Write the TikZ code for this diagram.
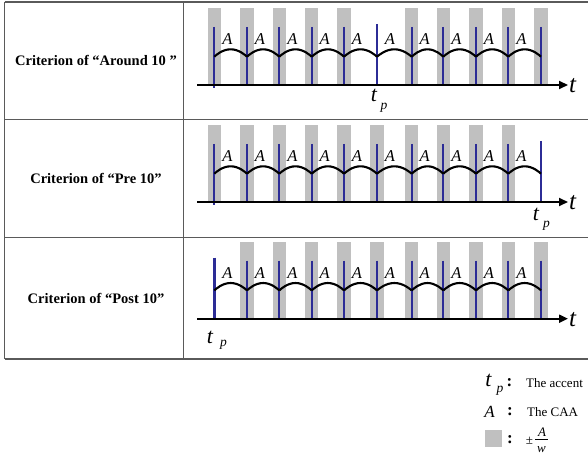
\documentclass[tikz,border=0pt]{standalone}
\usepackage{fontspec}
\setmainfont{Liberation Serif}
\usetikzlibrary{arrows.meta}
\definecolor{barblue}{RGB}{44,44,150}
\definecolor{bargray}{RGB}{192,192,192}
\definecolor{rulegray}{RGB}{90,90,90}
\newcommand\sz[1]{\fontsize{#1}{#1}\selectfont}
\tikzset{
  rule/.style={draw=rulegray,line width=1.2pt},
  blueline/.style={draw=barblue,line width=1.7pt},
  tpline/.style={draw=barblue,line width=2.7pt},
  wave/.style={draw=black,line width=2.1pt,line join=round},
  axisline/.style={draw=black,line width=2pt,-{Triangle[length=9pt,width=8pt]}},
  alabel/.style={inner sep=0pt,anchor=base,font=\sz{16.5}\itshape},
  tlabel/.style={inner sep=0pt,font=\sz{25}\itshape},
  tplabel/.style={inner sep=0pt,anchor=base,font=\sz{22}\itshape},
  plabel/.style={inner sep=0pt,anchor=base,font=\sz{13.5}\itshape},
  crit/.style={inner sep=0pt,font=\sz{14.5}\bfseries},
  legtext/.style={inner sep=0pt,anchor=base west,font=\sz{13}},
  legcolon/.style={inner sep=0pt,anchor=base,font=\sz{17}\bfseries},
}
\newcommand\critrow[3]{%
  \foreach \x [count=\i] in {214.3,247,279.3,311.7,344,377,411.7,443.3,476,508.3,541}{%
    \ifnum\i=#3\relax\else
      \fill[bargray] ({\x-6.7},{#2-77}) rectangle ({\x+6.7},#2);
    \fi
  }
  \foreach \x [count=\i] in {214.3,247,279.3,311.7,344,377,411.7,443.3,476,508.3,541}{%
    \ifnum\i=#3\relax
      \coordinate (r#1top\i) at (\x,{#2-61});
      \coordinate (r#1bot\i) at (\x,#2);
      \draw[tpline] (r#1top\i) -- (r#1bot\i);
    \else
      \coordinate (r#1top\i) at (\x,{#2-58});
      \ifnum\i=1\relax
        \coordinate (r#1bot\i) at (\x,{#2+3});
      \else
        \coordinate (r#1bot\i) at (\x,#2);
      \fi
      \draw[blueline] (r#1top\i) -- (r#1bot\i);
    \fi
  }
  \foreach \a/\b in {214.3/247,247/279.3,279.3/311.7,311.7/344,344/377,377/411.7,411.7/443.3,443.3/476,476/508.3,508.3/541}{%
    \draw[wave] (\a,{#2-28.3}) parabola bend ({(\a+\b)/2},{#2-35.7}) (\b,{#2-28.3});
  }
  \foreach \x [count=\i] in {214.3,247,279.3,311.7,344,377,411.7,443.3,476,508.3}{%
    \node[alabel] (r#1a\i) at ({\x+13},{#2-40}) {A};
  }
  \coordinate (r#1as) at (197,#2);
  \coordinate (r#1ae) at (568,#2);
  \draw[axisline] (r#1as) -- (r#1ae);
  \node[tlabel,anchor=base west] (r#1t) at (569,{#2+7.5}) {t};
}
\begin{document}
\begin{tikzpicture}[x=1pt,y=-1pt]
\useasboundingbox (0,0) rectangle (588,462);
% table
\coordinate (tTL) at (4.5,2);   \coordinate (tTR) at (588,2);
\coordinate (tBL) at (4.5,359); \coordinate (tBR) at (588,359);
\coordinate (tDT) at (183.5,2); \coordinate (tDB) at (183.5,359);
\coordinate (tR1L) at (4.5,119.5); \coordinate (tR1R) at (588,119.5);
\coordinate (tR2L) at (4.5,237.5); \coordinate (tR2R) at (588,237.5);
\draw[rule] (tTL) -- (tTR);
\draw[rule] (tBL) -- (tBR);
\draw[rule] (tTL) -- (tBL);
\draw[rule] (tDT) -- (tDB);
\draw[rule] (tR1L) -- (tR1R);
\draw[rule] (tR2L) -- (tR2R);
% left column
\node[crit] (c1) at (96,60.5) {Criterion of “Around 10 ”};
\node[crit] (c2) at (96,178) {Criterion of “Pre 10”};
\node[crit] (c3) at (96,298) {Criterion of “Post 10”};
% rows
\critrow{1}{85}{6}
\critrow{2}{202}{11}
\critrow{3}{318.7}{1}
% tp labels
\node[tplabel] (tp1t) at (374,102) {t};
\node[plabel]  (tp1p) at (384,110) {p};
\node[tplabel] (tp2t) at (536,220) {t};
\node[plabel]  (tp2p) at (546.5,227) {p};
\node[tplabel] (tp3t) at (210,343) {t};
\node[plabel]  (tp3p) at (223.5,346.5) {p};
% legend
\node[tplabel] (lgt) at (488.5,386) {t};
\node[plabel]  (lgp) at (500,392) {p};
\node[legcolon] (lgc1) at (509.5,386) {:};
\node[legtext] (lgtx1) at (526,387) {The accent};
\node[inner sep=0pt,anchor=base,font=\sz{17}\itshape] (lga) at (489.5,417) {A};
\node[legcolon] (lgc2) at (510,415) {:};
\node[legtext] (lgtx2) at (527,416) {The CAA};
\fill[bargray] (485,430) rectangle (502,447);
\node[legcolon] (lgc3) at (510,443) {:};
\node[inner sep=0pt,anchor=base,font=\sz{13}] (lgpm) at (529.5,444) {±};
\node[inner sep=0pt,anchor=base,font=\sz{13}\itshape] (lgfa) at (542,436) {A};
\node[inner sep=0pt,anchor=base,font=\sz{13}\itshape] (lgfw) at (541.5,452) {w};
\coordinate (lgfl) at (535,439.5); \coordinate (lgfr) at (548,439.5);
\draw[line width=0.6pt] (lgfl) -- (lgfr);
\end{tikzpicture}
\end{document}
